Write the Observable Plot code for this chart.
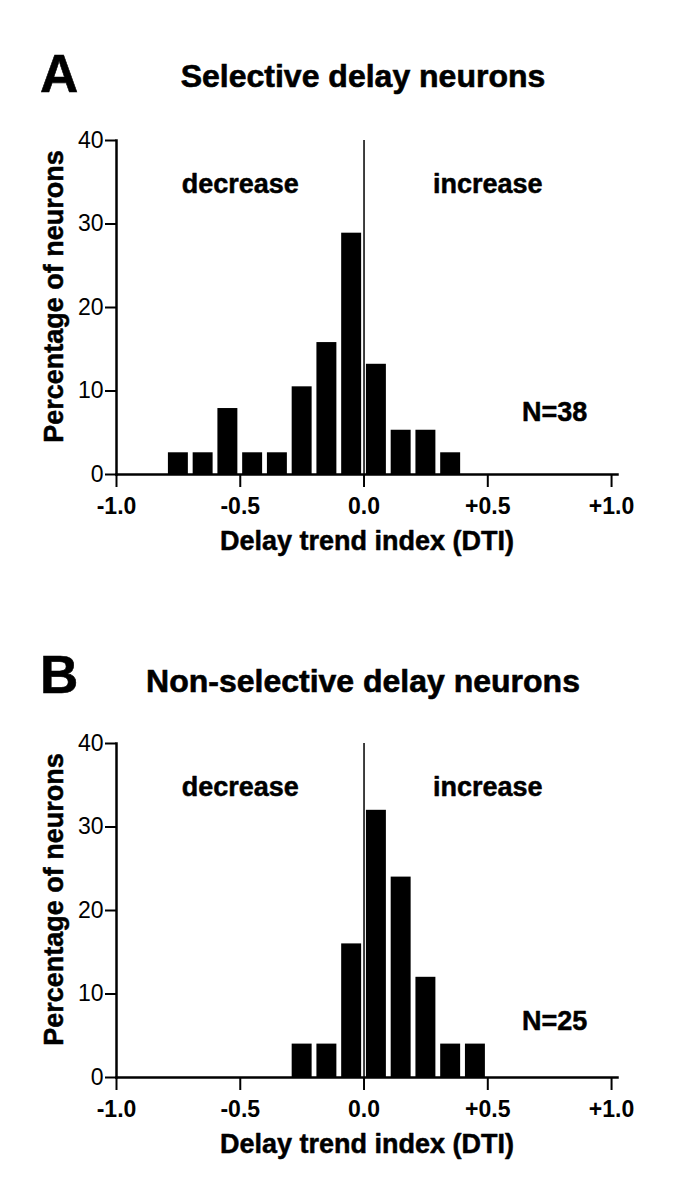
<!DOCTYPE html>
<html>
<head>
<meta charset="utf-8">
<script src="https://cdn.jsdelivr.net/npm/d3@7"></script>
<script src="https://cdn.jsdelivr.net/npm/@observablehq/plot@0.6"></script>
<style>
  body { margin: 0; background: #fff; }
  #wrap { position: relative; width: 698px; height: 1200px; font-family: "Liberation Sans", Arial, sans-serif; color: #000; background: #fff; }
  .lbl { position: absolute; font-weight: bold; line-height: 1; white-space: nowrap; -webkit-text-stroke: 0.6px #000; }
  .panel { position: absolute; left: 0; }
</style>
</head>
<body>
<div id="wrap"></div>
<script>
// ---- data ----
const binWidth = 0.1;
const binStartA = [-0.8, -0.7, -0.6, -0.5, -0.4, -0.3, -0.2, -0.1, 0.0, 0.1, 0.2, 0.3];
const pctA      = [2.6, 2.6, 7.9, 2.6, 2.6, 10.5, 15.8, 28.9, 13.2, 5.3, 5.3, 2.6];
const binStartB = [-0.3, -0.2, -0.1, 0.0, 0.1, 0.2, 0.3, 0.4];
const pctB      = [4, 4, 16, 32, 24, 12, 4, 4];

const xTicks = [-1, -0.5, 0, 0.5, 1];
const xTickLabels = ["-1.0", "-0.5", "0.0", "+0.5", "+1.0"];
const yTicks = [0, 10, 20, 30, 40];

const panelLetters = ["A", "B"];
const panelTitles = ["Selective delay neurons", "Non-selective delay neurons"];
const nLabels = ["N=38", "N=25"];
const nLabelX = [0.77, 0.77];
const nLabelY = [7.5, 6.7];
const trendLabels = ["decrease", "increase"];
const trendX = [-0.5, 0.5];
const trendY = [34.8, 34.8];
const yTitle = "Percentage of neurons";
const xTitle = "Delay trend index (DTI)";

// ---- build ----
const FONT = '"Liberation Sans", Arial, sans-serif';
const wrap = document.getElementById("wrap");
const bold = {fontWeight: "bold", fill: "black", stroke: "black", strokeWidth: 0.5};

function makePanel(binStart, pct, idx) {
  const bins = binStart.map((s, i) => ({x1: s, x2: s + binWidth, pct: pct[i]}));
  const trend = trendLabels.map((t, i) => ({t, x: trendX[i], y: trendY[i]}));
  return Plot.plot({
    width: 698,
    height: 470,
    marginTop: 30,
    marginBottom: 106,
    marginLeft: 116,
    marginRight: 81,
    x: {domain: [-1, 1.024]},
    y: {domain: [0, 40]},
    style: {fontFamily: FONT, fontSize: "23px", background: "white", color: "black", overflow: "visible"},
    marks: [
      Plot.rectY(bins, {x1: "x1", x2: "x2", y: "pct", fill: "black", insetLeft: 2.4, insetRight: 2.4}),
      Plot.ruleX([0], {stroke: "black", strokeWidth: 1.5}),
      Plot.frame({anchor: "left", stroke: "black", strokeWidth: 2.5}),
      Plot.frame({anchor: "bottom", stroke: "black", strokeWidth: 2.5}),
      Plot.axisY({ticks: yTicks, tickSize: 11, tickPadding: 2, fontSize: 23, label: null, strokeWidth: 2}),
      Plot.axisX({ticks: xTicks, tickFormat: d => xTickLabels[xTicks.indexOf(d)], tickSize: 13, tickPadding: 10,
                  fontSize: 23, fontWeight: "bold", label: null, strokeWidth: 2}),
      Plot.text([yTitle], {frameAnchor: "left", rotate: -90, textAnchor: "middle", lineAnchor: "middle",
                           dx: -62, dy: -11, fontSize: 27, ...bold}),
      Plot.text([xTitle], {frameAnchor: "bottom", textAnchor: "middle", lineAnchor: "middle",
                           dy: 67, fontSize: 27, ...bold}),
      Plot.text(trend, {x: "x", y: "y", text: "t", fontSize: 27, lineAnchor: "middle", ...bold}),
      Plot.text([nLabels[idx]], {x: () => nLabelX[idx], y: () => nLabelY[idx], fontSize: 27,
                                 lineAnchor: "middle", ...bold})
    ]
  });
}

const panelTop = [110, 713];
const letterTop = [47, 648];
const titleTop = [60, 665];

[[binStartA, pctA], [binStartB, pctB]].forEach(([bs, p], i) => {
  const letter = document.createElement("div");
  letter.className = "lbl";
  letter.style.left = "40px";
  letter.style.top = letterTop[i] + "px";
  letter.style.fontSize = "53px";
  letter.textContent = panelLetters[i];
  wrap.appendChild(letter);

  const title = document.createElement("div");
  title.className = "lbl";
  title.style.left = "363px";
  title.style.top = titleTop[i] + "px";
  title.style.fontSize = "32px";
  title.style.transform = "translateX(-50%)";
  title.textContent = panelTitles[i];
  wrap.appendChild(title);

  const holder = document.createElement("div");
  holder.className = "panel";
  holder.style.top = panelTop[i] + "px";
  holder.appendChild(makePanel(bs, p, i));
  wrap.appendChild(holder);
});
</script>
</body>
</html>
